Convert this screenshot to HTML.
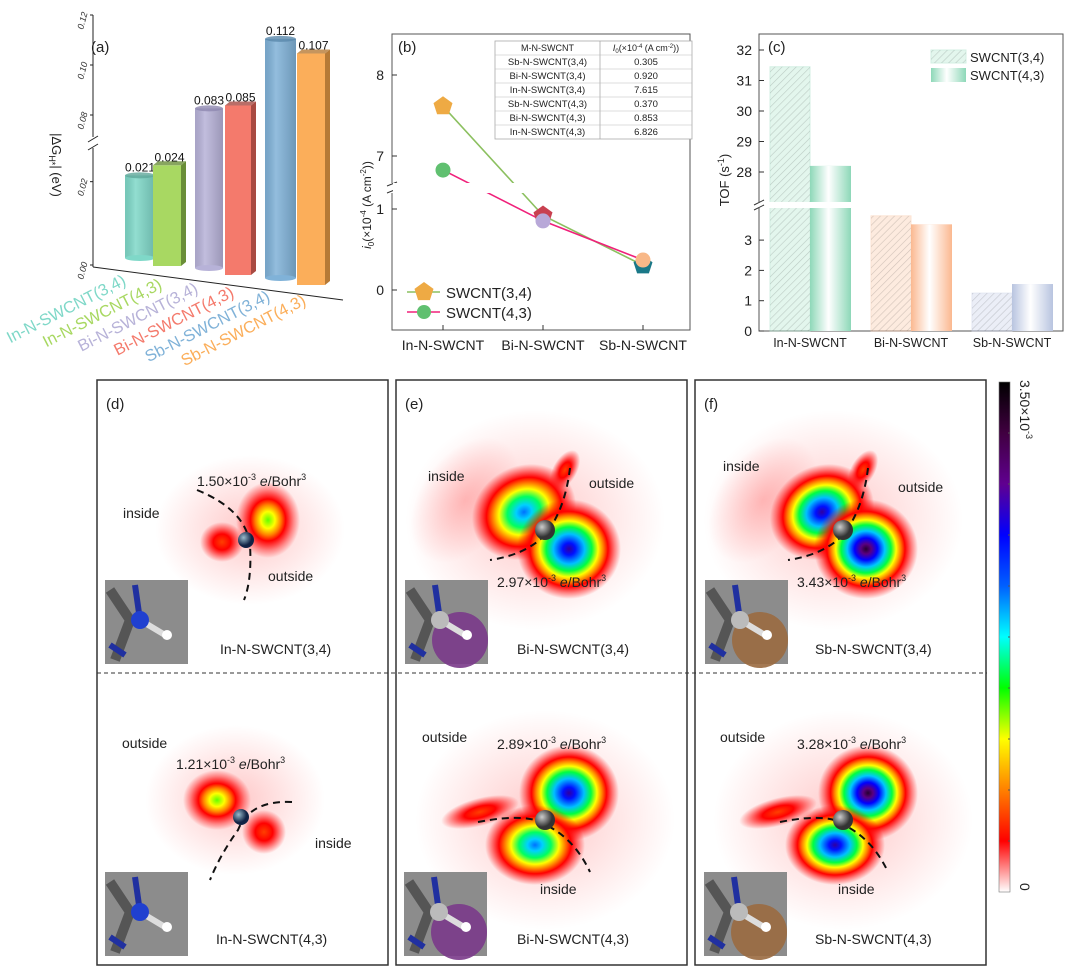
<!DOCTYPE html>
<html><head><meta charset="utf-8"><style>
body{margin:0;background:#fff;}
svg{display:block;font-family:"Liberation Sans",sans-serif;}
</style></head><body>
<svg id="fig" width="1080" height="976" viewBox="0 0 1080 976" xmlns="http://www.w3.org/2000/svg">
<defs>
<radialGradient id="g5"><stop offset="0" stop-color="#25002f"/><stop offset="0.1" stop-color="#5a0080"/><stop offset="0.22" stop-color="#0000ff"/><stop offset="0.36" stop-color="#00c8ff"/><stop offset="0.48" stop-color="#00ff40"/><stop offset="0.58" stop-color="#ffff00"/><stop offset="0.67" stop-color="#ff8000"/><stop offset="0.75" stop-color="#ff0000"/><stop offset="0.88" stop-color="#ff0000" stop-opacity="0.45"/><stop offset="1" stop-color="#ff0000" stop-opacity="0"/></radialGradient>
<radialGradient id="g4"><stop offset="0" stop-color="#3000a0"/><stop offset="0.12" stop-color="#0010ff"/><stop offset="0.3" stop-color="#00c0ff"/><stop offset="0.44" stop-color="#00ff40"/><stop offset="0.56" stop-color="#ffff00"/><stop offset="0.66" stop-color="#ff8000"/><stop offset="0.75" stop-color="#ff0000"/><stop offset="0.88" stop-color="#ff0000" stop-opacity="0.45"/><stop offset="1" stop-color="#ff0000" stop-opacity="0"/></radialGradient>
<radialGradient id="g3"><stop offset="0" stop-color="#0070ff"/><stop offset="0.15" stop-color="#00d0ff"/><stop offset="0.32" stop-color="#00ff60"/><stop offset="0.48" stop-color="#ffff00"/><stop offset="0.6" stop-color="#ff8000"/><stop offset="0.72" stop-color="#ff0000"/><stop offset="0.87" stop-color="#ff0000" stop-opacity="0.45"/><stop offset="1" stop-color="#ff0000" stop-opacity="0"/></radialGradient>
<radialGradient id="g2"><stop offset="0" stop-color="#60ff00"/><stop offset="0.22" stop-color="#ffff00"/><stop offset="0.4" stop-color="#ff8000"/><stop offset="0.55" stop-color="#ff0000"/><stop offset="0.8" stop-color="#ff0000" stop-opacity="0.4"/><stop offset="1" stop-color="#ff0000" stop-opacity="0"/></radialGradient>
<radialGradient id="g1"><stop offset="0" stop-color="#ff4000"/><stop offset="0.4" stop-color="#ff0000"/><stop offset="0.75" stop-color="#ff0000" stop-opacity="0.4"/><stop offset="1" stop-color="#ff0000" stop-opacity="0"/></radialGradient>
<radialGradient id="glow"><stop offset="0" stop-color="#ff0000" stop-opacity="0.22"/><stop offset="1" stop-color="#ff0000" stop-opacity="0"/></radialGradient>
<radialGradient id="atom" cx="0.35" cy="0.35"><stop offset="0" stop-color="#ccc"/><stop offset="1" stop-color="#333"/></radialGradient>
<radialGradient id="atomN" cx="0.35" cy="0.35"><stop offset="0" stop-color="#9bc"/><stop offset="1" stop-color="#124"/></radialGradient>
<linearGradient id="cbar" x1="0" y1="1" x2="0" y2="0"><stop offset="0" stop-color="#fff"/><stop offset="0.1" stop-color="#ff0000"/><stop offset="0.2" stop-color="#ff8000"/><stop offset="0.3" stop-color="#ffff00"/><stop offset="0.4" stop-color="#00ff00"/><stop offset="0.5" stop-color="#00ffff"/><stop offset="0.6" stop-color="#0060ff"/><stop offset="0.7" stop-color="#0000ff"/><stop offset="0.8" stop-color="#600090"/><stop offset="0.9" stop-color="#400040"/><stop offset="1" stop-color="#000"/></linearGradient>
<linearGradient id="cyl" x1="0" x2="1"><stop offset="0" stop-color="#000" stop-opacity="0.08"/><stop offset="0.35" stop-color="#fff" stop-opacity="0.15"/><stop offset="1" stop-color="#000" stop-opacity="0.15"/></linearGradient>
<linearGradient id="barfade" x1="0" x2="1"><stop offset="0" stop-color="#fff" stop-opacity="0"/><stop offset="0.45" stop-color="#fff" stop-opacity="1"/><stop offset="1" stop-color="#fff" stop-opacity="0"/></linearGradient>
<pattern id="hatch" width="5" height="5" patternUnits="userSpaceOnUse" patternTransform="rotate(45)"><line x1="0" y1="0" x2="0" y2="5" stroke="#000" stroke-opacity="0.35" stroke-width="1.2"/></pattern>
</defs>
<g id="pa"></g><g id="pb"></g><g id="pc"></g><g id="maps"></g>
</svg>
<script>
const NS="http://www.w3.org/2000/svg";
function el(parent,tag,attrs,text){const e=document.createElementNS(NS,tag);for(const k in attrs)e.setAttribute(k,attrs[k]);if(text!==undefined)e.textContent=text;parent.appendChild(e);return e;}

// ---------- Panel (a) data ----------
const aCategories=["In-N-SWCNT(3,4)","In-N-SWCNT(4,3)","Bi-N-SWCNT(3,4)","Bi-N-SWCNT(4,3)","Sb-N-SWCNT(3,4)","Sb-N-SWCNT(4,3)"];
const aValues=[0.021,0.024,0.083,0.085,0.112,0.107];
const aLabels=["0.021","0.024","0.083","0.085","0.112","0.107"];
const aTicks=["0.00","0.02","0.08","0.10","0.12"];
const aTickVals=[0,0.02,0.08,0.10,0.12];
// ---------- Panel (b) data ----------
const bCategories=["In-N-SWCNT","Bi-N-SWCNT","Sb-N-SWCNT"];
const b34=[7.615,0.920,0.305];
const b43=[6.826,0.853,0.370];
const bTicks=[0,1,7,8];
const bTableNames=["Sb-N-SWCNT(3,4)","Bi-N-SWCNT(3,4)","In-N-SWCNT(3,4)","Sb-N-SWCNT(4,3)","Bi-N-SWCNT(4,3)","In-N-SWCNT(4,3)"];
const bTableVals=["0.305","0.920","7.615","0.370","0.853","6.826"];
// ---------- Panel (c) data ----------
const cCategories=["In-N-SWCNT","Bi-N-SWCNT","Sb-N-SWCNT"];
const c34=[31.45,3.8,1.25];
const c43=[28.2,3.52,1.55];
const cTicks=[0,1,2,3,28,29,30,31,32];

const aColors=["#7fd8c8","#a8d862","#b7b2d8","#f47a6c","#80b2d8","#fbae5a"];
const aDark=["#5fa89a","#6a8e38","#8e88b0","#a84a42","#5a88ab","#b67a36"];

// Panel (a)
(function(){
 const g=document.getElementById('pa');
 function ay(v){return v<=0.03? 265-v/0.03*125 : 140-(v-0.07)/0.05*125;}
 const axis=el(g,'g',{});
 el(axis,'line',{x1:93,y1:15,x2:93,y2:137,stroke:'#222','stroke-width':1});
 el(axis,'line',{x1:93,y1:148,x2:93,y2:267,stroke:'#222','stroke-width':1});
 el(axis,'line',{x1:88,y1:142,x2:98,y2:136,stroke:'#222'});el(axis,'line',{x1:88,y1:150,x2:98,y2:144,stroke:'#222'});
 el(axis,'line',{x1:93,y1:267,x2:343,y2:300,stroke:'#222','stroke-width':1});
 aTickVals.forEach((v,i)=>{const y=ay(v);el(axis,'line',{x1:90,y1:y,x2:93,y2:y,stroke:'#222'});
  el(axis,'text',{x:87,y:y+3,'font-size':9,'font-style':'italic','text-anchor':'end',fill:'#333',transform:`rotate(-75 84 ${y})`},aTicks[i]);});
 const yt=el(g,'text',{x:0,y:0,'font-size':13,fill:'#222',transform:'translate(52,165) rotate(90)','text-anchor':'middle'});
 yt.innerHTML='|ΔG<tspan font-size="9" dy="3">H*</tspan><tspan dy="-3">| (eV)</tspan>';
 
 const pl=el(g,'text',{x:91,y:52,'font-size':15,fill:'#222'},'(a)');
 const x0=[125,153,195,225,265,297], w=[30,33,28,31,31,33], bot=[258,266,268,275,278,285];
 aValues.forEach((v,i)=>{
  const bg=el(g,'g',{});
  const top=ay(v)+(bot[i]-265)*0.3, x=x0[i], ww=w[i];
  if(i%2===0){
   el(bg,'rect',{x:x,y:top,width:ww,height:bot[i]-top,fill:aColors[i]});
   el(bg,'rect',{x:x,y:top,width:ww,height:bot[i]-top,fill:'url(#cyl)'});
   el(bg,'ellipse',{cx:x+ww/2,cy:bot[i],rx:ww/2,ry:3,fill:aColors[i]});
   el(bg,'ellipse',{cx:x+ww/2,cy:top,rx:ww/2,ry:3,fill:aDark[i],opacity:0.8});
  }else{
   el(bg,'rect',{x:x,y:top,width:ww-5,height:bot[i]-top,fill:aColors[i]});
   el(bg,'polygon',{points:`${x+ww-5},${top} ${x+ww},${top-4} ${x+ww},${bot[i]-4} ${x+ww-5},${bot[i]}`,fill:aDark[i]});
   el(bg,'polygon',{points:`${x},${top} ${x+5},${top-4} ${x+ww},${top-4} ${x+ww-5},${top}`,fill:aDark[i],opacity:0.8});
  }
  el(bg,'text',{x:x+ww/2,y:top-4,'font-size':12,'text-anchor':'middle',fill:'#111'},aLabels[i]);
  const lx=127+i*36, ly=284+i*4;
  el(bg,'text',{x:lx,y:ly,'font-size':16.5,'text-anchor':'end',fill:aColors[i],transform:`rotate(-27 ${lx} ${ly})`},aCategories[i]);
 });
})();

// Panel (b)
(function(){
 const g=document.getElementById('pb');
 const L=392,R=690,T=34,B=330;
 function by(v){return v>=5? 75+(8-v)*81 : 290-v*81;}
 function bx(i){return 443+i*100;}
 const fr=el(g,'rect',{x:L,y:T,width:R-L,height:B-T,fill:'none',stroke:'#555','stroke-width':1});
 el(g,'rect',{x:L-6,y:183,width:12,height:10,fill:'#fff'});
 el(g,'line',{x1:L-5,y1:186,x2:L+5,y2:182,stroke:'#333'});el(g,'line',{x1:L-5,y1:193,x2:L+5,y2:189,stroke:'#333'});
 bTicks.forEach(v=>{const y=by(v);el(g,'line',{x1:L,y1:y,x2:L+5,y2:y,stroke:'#333'});
  const t=el(g,'text',{x:L-8,y:y+5,'font-size':14,'text-anchor':'end',fill:'#222'},String(v));});
 bCategories.forEach((c,i)=>{el(g,'line',{x1:bx(i),y1:B,x2:bx(i),y2:B-5,stroke:'#333'});
  const t=el(g,'text',{x:bx(i),y:B+20,'font-size':14,'text-anchor':'middle',fill:'#222'},c);});
 const yt=el(g,'text',{x:0,y:0,'font-size':12,fill:'#222','text-anchor':'middle',transform:'translate(371,205) rotate(-90)'});
 yt.innerHTML='<tspan font-style="italic">i</tspan><tspan font-size="8" dy="3">0</tspan><tspan dy="-3">(×10</tspan><tspan font-size="8" dy="-5">-4</tspan><tspan dy="5"> (A cm</tspan><tspan font-size="8" dy="-5">-2</tspan><tspan dy="5">))</tspan>';
 
 const pl=el(g,'text',{x:398,y:52,'font-size':15,fill:'#222'},'(b)');
 const l1=el(g,'polyline',{points:b34.map((v,i)=>bx(i)+','+by(v)).join(' '),fill:'none',stroke:'#8cc060','stroke-width':1.6});
 const l2=el(g,'polyline',{points:b43.map((v,i)=>bx(i)+','+by(v)).join(' '),fill:'none',stroke:'#f0207a','stroke-width':1.6});
 el(g,'rect',{x:L+1,y:183,width:R-L-2,height:10,fill:'#fff'});
 const pcol=['#eeaa44','#c84050','#1a7888'], ccol=['#60c070','#b8a8d8','#f8b888'];
 function pent(cx,cy,r,f){let p=[];for(let k=0;k<5;k++){const a=-Math.PI/2+k*2*Math.PI/5;p.push((cx+r*Math.cos(a)).toFixed(1)+','+(cy+r*Math.sin(a)).toFixed(1));}return el(g,'polygon',{points:p.join(' '),fill:f});}
 b34.forEach((v,i)=>{const p=pent(bx(i),by(v),10,pcol[i]);});
 b43.forEach((v,i)=>{const c=el(g,'circle',{cx:bx(i),cy:by(v),r:7.5,fill:ccol[i]});});
 const lg=el(g,'g',{});
 el(lg,'line',{x1:407,y1:292,x2:440,y2:292,stroke:'#8cc060','stroke-width':1.6});
 let pp=[];for(let k=0;k<5;k++){const a=-Math.PI/2+k*2*Math.PI/5;pp.push((424+10*Math.cos(a)).toFixed(1)+','+(292+10*Math.sin(a)).toFixed(1));}
 el(lg,'polygon',{points:pp.join(' '),fill:'#eeaa44'});
 el(lg,'text',{x:446,y:298,'font-size':15,fill:'#222'},'SWCNT(3,4)');
 el(lg,'line',{x1:407,y1:312,x2:440,y2:312,stroke:'#f0207a','stroke-width':1.6});
 el(lg,'circle',{cx:424,cy:312,r:7,fill:'#60c070'});
 el(lg,'text',{x:446,y:318,'font-size':15,fill:'#222'},'SWCNT(4,3)');
 const tb=el(g,'g',{});
 const tx=495,tw=[105,92],ty=41,rh=14;
 el(tb,'rect',{x:tx,y:ty,width:197,height:rh*7,fill:'#fff',stroke:'#aaa','stroke-width':0.8});
 el(tb,'line',{x1:tx+tw[0],y1:ty,x2:tx+tw[0],y2:ty+rh*7,stroke:'#aaa','stroke-width':0.8});
 for(let r=1;r<7;r++)el(tb,'line',{x1:tx,y1:ty+r*rh,x2:tx+197,y2:ty+r*rh,stroke:'#bbb','stroke-width':0.6});
 el(tb,'text',{x:tx+tw[0]/2,y:ty+10,'font-size':9,'text-anchor':'middle',fill:'#222'},'M-N-SWCNT');
 const h=el(tb,'text',{x:tx+tw[0]+tw[1]/2,y:ty+10,'font-size':9,'text-anchor':'middle',fill:'#222'});
 h.innerHTML='<tspan font-style="italic">I</tspan><tspan font-size="6" dy="2">0</tspan><tspan dy="-2">(×10</tspan><tspan font-size="6" dy="-3">-4</tspan><tspan dy="3"> (A cm</tspan><tspan font-size="6" dy="-3">-2</tspan><tspan dy="3">))</tspan>';
 bTableNames.forEach((n,r)=>{el(tb,'text',{x:tx+tw[0]/2,y:ty+(r+1)*rh+10,'font-size':9.5,'text-anchor':'middle',fill:'#222'},n);
  el(tb,'text',{x:tx+tw[0]+tw[1]/2,y:ty+(r+1)*rh+10,'font-size':9.5,'text-anchor':'middle',fill:'#222'},bTableVals[r]);});
})();

// Panel (c)
(function(){
 const g=document.getElementById('pc');
 const L=759,R=1063,T=34,B=331;
 function cy(v){return v>=20? 50+(32-v)*30.5 : 331-v*30.3;}
 const cx=[790,891,992];
 const fill34=['#c8eedd','#fdd8c0','#d8def0'], stroke34=['#a8e0c8','#fbc8a8','#c8d0e8'], fill43=['#8ed8b8','#fbb890','#b8c4e0'];
 const fr=el(g,'rect',{x:L,y:T,width:R-L,height:B-T,fill:'none',stroke:'#555'});
 cTicks.forEach(v=>{const y=cy(v);el(g,'line',{x1:L,y1:y,x2:L+5,y2:y,stroke:'#333'});
  const t=el(g,'text',{x:L-7,y:y+5,'font-size':14,'text-anchor':'end',fill:'#222'},String(v));});
 cCategories.forEach((c,i)=>{const t=el(g,'text',{x:cx[i]+20,y:B+16,'font-size':12.5,'text-anchor':'middle',fill:'#222'},c);});
 c34.forEach((v,i)=>{const y=cy(v);const b=el(g,'g',{});
  el(b,'rect',{x:cx[i]-20,y:y,width:40,height:B-y,fill:fill34[i],opacity:0.5,stroke:stroke34[i]});
  el(b,'rect',{x:cx[i]-20,y:y,width:40,height:B-y,fill:'url(#hatch)',opacity:0.5});});
 c43.forEach((v,i)=>{const y=cy(v);const b=el(g,'g',{});
  el(b,'rect',{x:cx[i]+20,y:y,width:41,height:B-y,fill:fill43[i]});
  el(b,'rect',{x:cx[i]+20,y:y,width:41,height:B-y,fill:'url(#barfade)'});});
 el(g,'rect',{x:L-6,y:202,width:R-L,height:6,fill:'#fff'});
 el(g,'line',{x1:L-5,y1:205,x2:L+5,y2:200,stroke:'#333'});el(g,'line',{x1:L-5,y1:210,x2:L+5,y2:205,stroke:'#333'});
 const yt=el(g,'text',{x:0,y:0,'font-size':13,fill:'#222','text-anchor':'middle',transform:'translate(729,180) rotate(-90)'});
 yt.innerHTML='TOF (s<tspan font-size="9" dy="-5">-1</tspan><tspan dy="5">)</tspan>';
 const pl=el(g,'text',{x:768,y:52,'font-size':15,fill:'#222'},'(c)');
 const lg=el(g,'g',{});
 el(lg,'rect',{x:931,y:50,width:35,height:13,fill:'#c8eedd',opacity:0.5,stroke:'#a8e0c8'});el(lg,'rect',{x:931,y:50,width:35,height:13,fill:'url(#hatch)',opacity:0.5});
 el(lg,'text',{x:970,y:62,'font-size':13,fill:'#222'},'SWCNT(3,4)');
 el(lg,'rect',{x:931,y:68,width:35,height:14,fill:'#8ed8b8'});el(lg,'rect',{x:931,y:68,width:35,height:14,fill:'url(#barfade)'});
 el(lg,'text',{x:970,y:80,'font-size':13,fill:'#222'},'SWCNT(4,3)');
})();

// Heatmap panels
(function(){
 const g=document.getElementById('maps');
 const panels=[{x:97,l:'(d)'},{x:396,l:'(e)'},{x:695,l:'(f)'}];
 panels.forEach((p,i)=>{const r=el(g,'rect',{x:p.x,y:380,width:291,height:585,fill:'#fff',stroke:'#333','stroke-width':1.5});
  });
 const cells=[
  {atom:[246,540],N:true,blobs:[[250,530,95,75,0,'glow'],[222,542,22,20,0,'g1'],[268,520,32,38,0,'g2']],arc:'M197,490 Q246,510 250,545 Q252,580 244,600',
   txt:[['inside',123,518],['outside',268,581]],val:['1.50',197,486],label:['In-N-SWCNT(3,4)',220,654],inset:[105,580,'#3050c0']},
  {atom:[241,817],N:true,blobs:[[235,800,90,75,0,'glow'],[217,800,34,30,0,'g2'],[264,832,22,22,0,'g1']],arc:'M292,802 Q250,800 238,830 Q220,855 210,880',
   txt:[['outside',122,748],['inside',315,848]],val:['1.21',176,769],label:['In-N-SWCNT(4,3)',216,944],inset:[105,872,'#3050c0']},
  {atom:[545,530],blobs:[[535,520,130,110,0,'glow'],[465,500,45,70,35,'glow'],[565,470,22,12,-60,'g1'],[524,512,54,46,-30,'g3'],[569,549,52,50,0,'g4']],arc:'M570,468 Q565,510 545,535 Q525,555 490,560',
   txt:[['inside',428,481],['outside',589,488]],val:['2.97',497,587],label:['Bi-N-SWCNT(3,4)',517,654],inset:[405,580,'#7a3a8a']},
  {atom:[545,820],blobs:[[545,820,130,110,0,'glow'],[480,812,40,14,-15,'g1'],[569,793,50,48,0,'g4'],[535,845,50,40,0,'g3']],arc:'M478,822 Q530,812 548,826 Q575,840 590,872',
   txt:[['outside',422,742],['inside',540,894]],val:['2.89',497,749],label:['Bi-N-SWCNT(4,3)',517,944],inset:[404,872,'#7a3a8a']},
  {atom:[843,530],blobs:[[833,520,130,110,0,'glow'],[763,500,45,70,35,'glow'],[863,470,22,12,-60,'g1'],[822,512,54,46,-30,'g4'],[866,549,52,50,0,'g5']],arc:'M868,468 Q863,510 843,535 Q823,555 788,560',
   txt:[['inside',723,471],['outside',898,492]],val:['3.43',797,587],label:['Sb-N-SWCNT(3,4)',815,654],inset:[705,580,'#9a6a40']},
  {atom:[843,820],blobs:[[843,820,130,110,0,'glow'],[778,812,40,14,-15,'g1'],[868,793,50,48,0,'g5'],[835,845,50,40,0,'g4']],arc:'M780,822 Q830,812 846,826 Q873,840 888,872',
   txt:[['outside',720,742],['inside',838,894]],val:['3.28',797,749],label:['Sb-N-SWCNT(4,3)',815,944],inset:[704,872,'#9a6a40']}
 ];
 cells.forEach((c,ci)=>{
  const cg=el(g,'g',{});
  c.blobs.forEach(b=>{el(cg,'ellipse',{cx:b[0],cy:b[1],rx:b[2],ry:b[3],fill:`url(#${b[5]})`,transform:`rotate(${b[4]} ${b[0]} ${b[1]})`});});
  el(cg,'path',{d:c.arc,fill:'none',stroke:'#111','stroke-width':2,'stroke-dasharray':'7,5'});
  el(cg,'circle',{cx:c.atom[0],cy:c.atom[1],r:c.N?8:10,fill:c.N?'url(#atomN)':'url(#atom)'});
  c.txt.forEach(t=>el(cg,'text',{x:t[1],y:t[2],'font-size':14,fill:'#222'},t[0]));
  const v=el(cg,'text',{x:c.val[1],y:c.val[2],'font-size':14,fill:'#222'});
  v.innerHTML=c.val[0]+'×10<tspan font-size="9" dy="-6">-3</tspan><tspan dy="6"> </tspan><tspan font-style="italic">e</tspan>/Bohr<tspan font-size="9" dy="-6">3</tspan>';
  const lb=el(cg,'text',{x:c.label[1],y:c.label[2],'font-size':14,fill:'#222'},c.label[0]);
  const ix=c.inset[0],iy=c.inset[1];const ig=el(cg,'g',{});
  el(ig,'rect',{x:ix,y:iy,width:83,height:84,fill:'#8c8c8c'});
  if(ci>=2)el(ig,'circle',{cx:ix+55,cy:iy+60,r:28,fill:c.inset[2],opacity:0.9});
  el(ig,'path',{d:`M${ix+5},${iy+10} L${ix+25},${iy+40} L${ix+10},${iy+80}`,stroke:'#555','stroke-width':10,fill:'none'});
  el(ig,'path',{d:`M${ix+30},${iy+5} L${ix+35},${iy+40}`,stroke:'#2030a0','stroke-width':6,fill:'none'});
  el(ig,'path',{d:`M${ix+5},${iy+65} L${ix+20},${iy+75}`,stroke:'#2030a0','stroke-width':6,fill:'none'});
  el(ig,'line',{x1:ix+35,y1:iy+40,x2:ix+60,y2:iy+55,stroke:'#ddd','stroke-width':6});
  el(ig,'circle',{cx:ix+35,cy:iy+40,r:9,fill:c.N?'#2040d0':'#bbb'});
  el(ig,'circle',{cx:ix+62,cy:iy+55,r:5,fill:'#fff'});
 });
 el(g,'line',{x1:97,y1:673,x2:987,y2:673,stroke:'#333','stroke-dasharray':'4,3','stroke-width':1});
 panels.forEach(p=>{const t=el(g,'text',{x:p.x+9,y:409,'font-size':15,fill:'#222'},p.l);});
 const cb=el(g,'g',{});
 el(cb,'rect',{x:999,y:382,width:11,height:510,fill:'url(#cbar)',stroke:'#777','stroke-width':0.6});
 for(let k=1;k<10;k++){el(cb,'line',{x1:1008,y1:382+k*51,x2:1010,y2:382+k*51,stroke:'#555'});}
 const t1=el(cb,'text',{x:0,y:0,'font-size':14,fill:'#222',transform:'translate(1020,380) rotate(90)'});
 t1.innerHTML='3.50×10<tspan font-size="9" dy="-6">-3</tspan>';
 el(cb,'text',{x:0,y:0,'font-size':14,fill:'#222',transform:'translate(1020,883) rotate(90)'},'0');
})();
</script>
</body></html>
